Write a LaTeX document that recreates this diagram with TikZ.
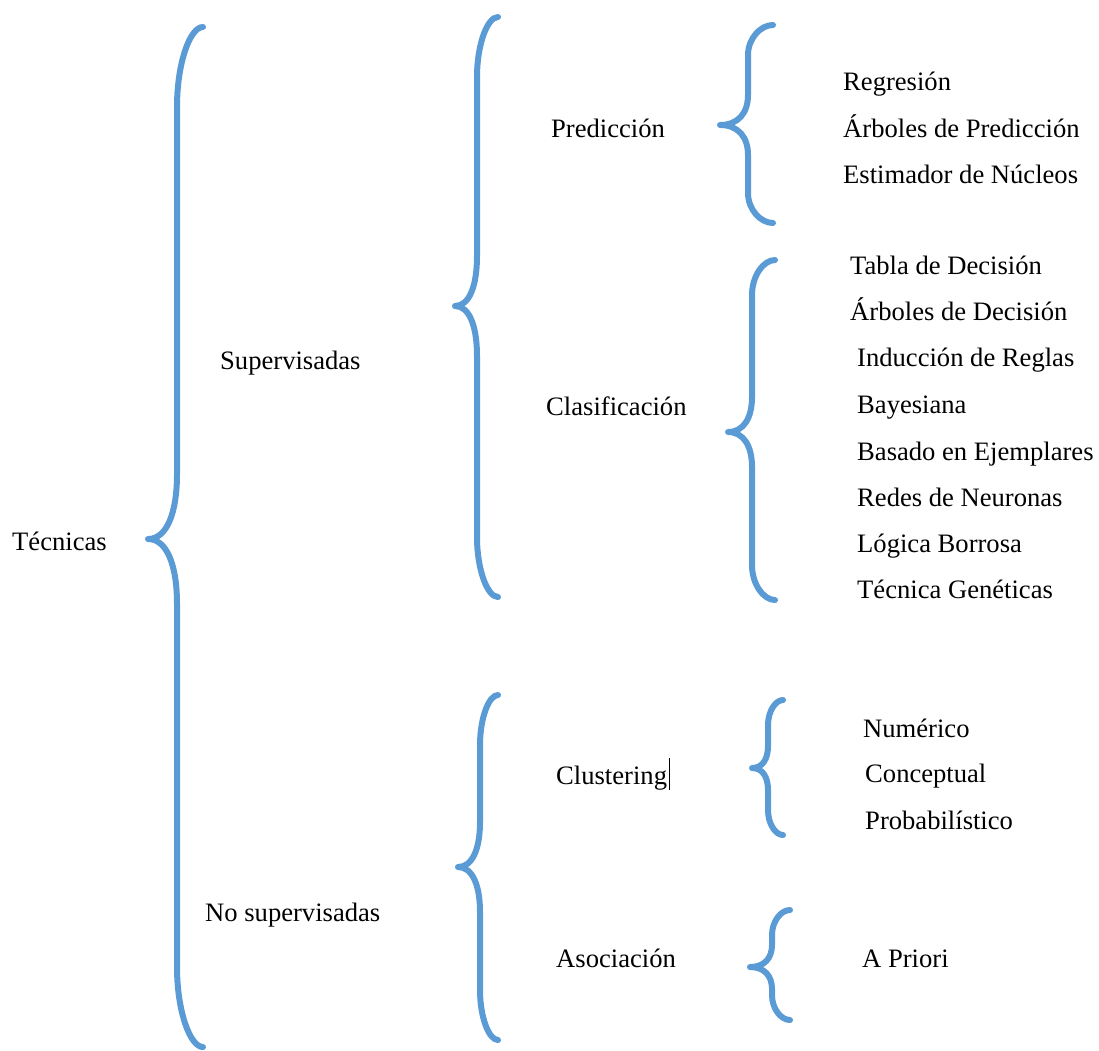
\documentclass[tikz,border=0pt]{standalone}
\usepackage{fontspec}
\setmainfont{Liberation Serif}
\definecolor{bracecol}{HTML}{5B9BD5}
% #1 end x, #2 top y, #3 stem x, #4 tip x, #5 tip y, #6 bottom y, #7 end radius, #8 tip radius
\newcommand\curlybrace[8]{%
  \draw[brc] (#1,#2)
    .. controls ({#3+0.5*(#1-#3)},#2) and (#3,{#2+0.45*#7}) .. (#3,{#2+#7})
    -- (#3,{#5-#8})
    .. controls (#3,{#5-0.4*#8}) and ({#3-0.35*(#3-#4)},#5) .. (#4,#5)
    .. controls ({#3-0.35*(#3-#4)},#5) and (#3,{#5+0.4*#8}) .. (#3,{#5+#8})
    -- (#3,{#6-#7})
    .. controls (#3,{#6-0.45*#7}) and ({#3+0.5*(#1-#3)},#6) .. (#1,#6);}
\begin{document}
\begin{tikzpicture}[x=1pt,y=-1pt,
  lbl/.style={anchor=base west, inner sep=0pt, font=\fontsize{26.6}{30}\selectfont},
  brc/.style={draw=bracecol, line width=6pt, line cap=round, line join=round}]
\useasboundingbox (0,0) rectangle (1099,1050);

% braces
\curlybrace{203}{27}{177}{148}{539}{1047}{80}{65}
\curlybrace{498}{17}{477}{455}{306}{597}{60}{50}
\curlybrace{498}{695}{480}{458}{867}{1040}{50}{45}
\curlybrace{773}{25}{748}{720}{125}{223}{30}{30}
\curlybrace{775}{260}{752}{728}{432}{600}{35}{35}
\curlybrace{783}{700}{768}{752}{768}{835}{25}{22}
\curlybrace{790}{910}{772}{750}{967}{1020}{25}{22}

% first level
\node[lbl] (tec) at (12,550) {Técnicas};
% second level
\node[lbl] (sup) at (220,369) {Supervisadas};
\node[lbl] (nosup) at (205,921) {No supervisadas};
% third level
\node[lbl] (pred) at (551,137) {Predicción};
\node[lbl] (clas) at (546,415) {Clasificación};
\node[lbl] (clus) at (556,784) {Clustering};
\node[lbl] (asoc) at (556,967) {Asociación};
% text cursor after the word
\draw[line width=1pt] ([xshift=2pt,yshift=26pt]clus.base east) -- ([xshift=2pt,yshift=-6pt]clus.base east);
% leaves
\node[lbl] (p1) at (843,90) {Regresión};
\node[lbl] (p2) at (843,137) {Árboles de Predicción};
\node[lbl] (p3) at (843,183) {Estimador de Núcleos};
\node[lbl] (c1) at (850,274) {Tabla de Decisión};
\node[lbl] (c2) at (850,320) {Árboles de Decisión};
\node[lbl] (c3) at (857,366) {Inducción de Reglas};
\node[lbl] (c4) at (857,413) {Bayesiana};
\node[lbl] (c5) at (857,460) {Basado en Ejemplares};
\node[lbl] (c6) at (857,506) {Redes de Neuronas};
\node[lbl] (c7) at (857,552) {Lógica Borrosa};
\node[lbl] (c8) at (857,598) {Técnica Genéticas};
\node[lbl] (u1) at (863,737) {Numérico};
\node[lbl] (u2) at (865,782) {Conceptual};
\node[lbl] (u3) at (865,829) {Probabilístico};
\node[lbl] (a1) at (862,967) {A Priori};
\end{tikzpicture}
\end{document}
